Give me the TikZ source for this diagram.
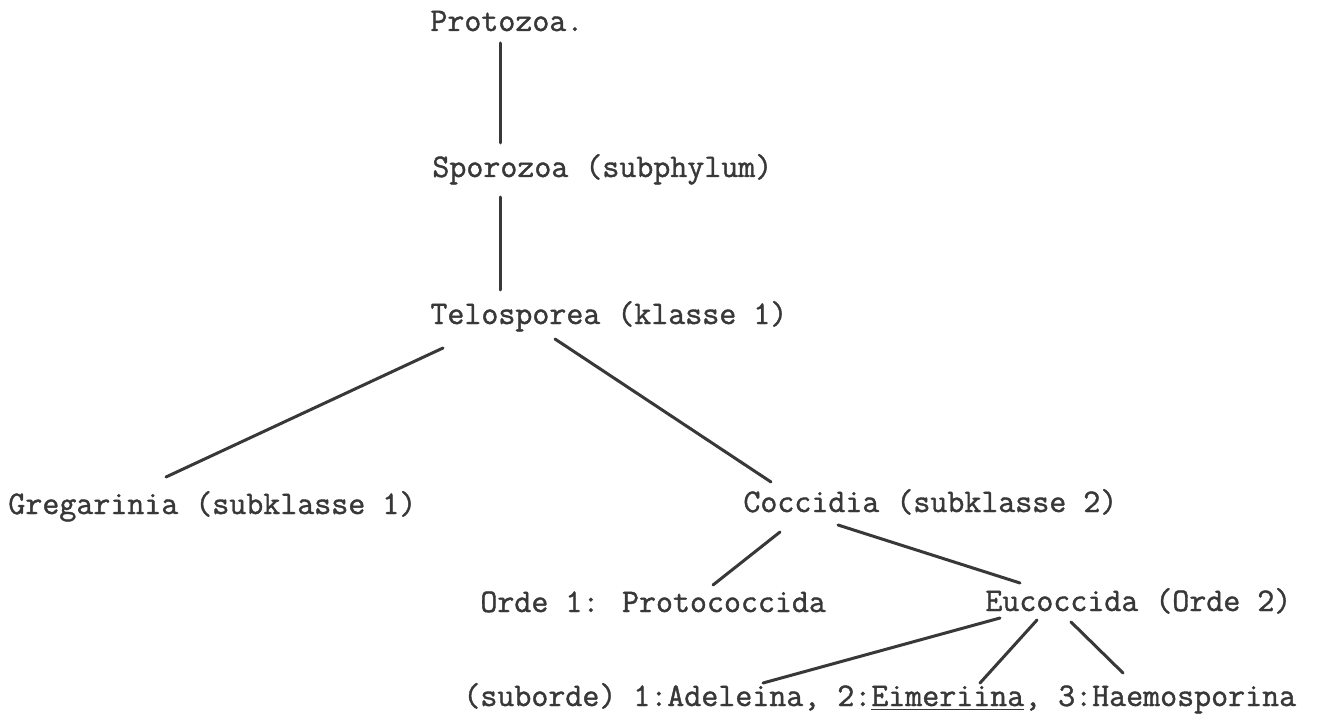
\documentclass[tikz,border=0pt]{standalone}
\usepackage{fontspec}
\newfontfamily\typew[FakeBold=1.2]{Latin Modern Mono}
\usetikzlibrary{calc}
\definecolor{ink}{HTML}{383838}
\tikzset{
  lbl/.style={anchor=base west, inner sep=0pt, text=ink,
    font=\fontsize{16.5pt}{20pt}\selectfont\typew},
  conn/.style={draw=ink, line width=1.5pt, line cap=round}
}
\begin{document}
\begin{tikzpicture}[x=0.5pt,y=-0.5pt]
\useasboundingbox[fill=white] (0,0) rectangle (1336,716);
\node[lbl] (proto) at (430,31) {Protozoa.};
\node[lbl] (spor) at (432,177) {Sporozoa (subphylum)};
\node[lbl] (telo) at (430,324) {Telosporea (klasse 1)};
\node[lbl] (greg) at (8,514) {Gregarinia (subklasse 1)};
\node[lbl] (cocc) at (743,512) {Coccidia (subklasse 2)};
\node[lbl] (orde) at (480,612) {Orde 1: Protococcida};
\node[lbl] (euc) at (985,611) {Eucoccida (Orde 2)};
\node[lbl] (sub) at (463,706) {(suborde) 1:Adeleina, 2:\underline{Eimeriina}, 3:Haemosporina};
\draw[conn] ($(proto.base west)+(70,12)$) -- ($(spor.base west)+(68,-34)$);
\draw[conn] ($(spor.base west)+(68,20)$) -- ($(telo.base west)+(70,-34)$);
\draw[conn] ($(telo.base west)+(13,24)$) -- ($(greg.base west)+(158,-37)$);
\draw[conn] ($(telo.base west)+(125,15)$) -- ($(cocc.base west)+(28,-30)$);
\draw[conn] ($(cocc.base west)+(37,20)$) -- ($(orde.base west)+(233,-27)$);
\draw[conn] ($(cocc.base west)+(95,13)$) -- ($(euc.base west)+(35,-28)$);
\draw[conn] ($(euc.base west)+(15,7)$) -- ($(sub.base west)+(300,-23)$);
\draw[conn] ($(euc.base west)+(52,9)$) -- ($(sub.base west)+(517,-23)$);
\draw[conn] ($(euc.base west)+(86,11)$) -- ($(sub.base west)+(660,-33)$);
\end{tikzpicture}
\end{document}
